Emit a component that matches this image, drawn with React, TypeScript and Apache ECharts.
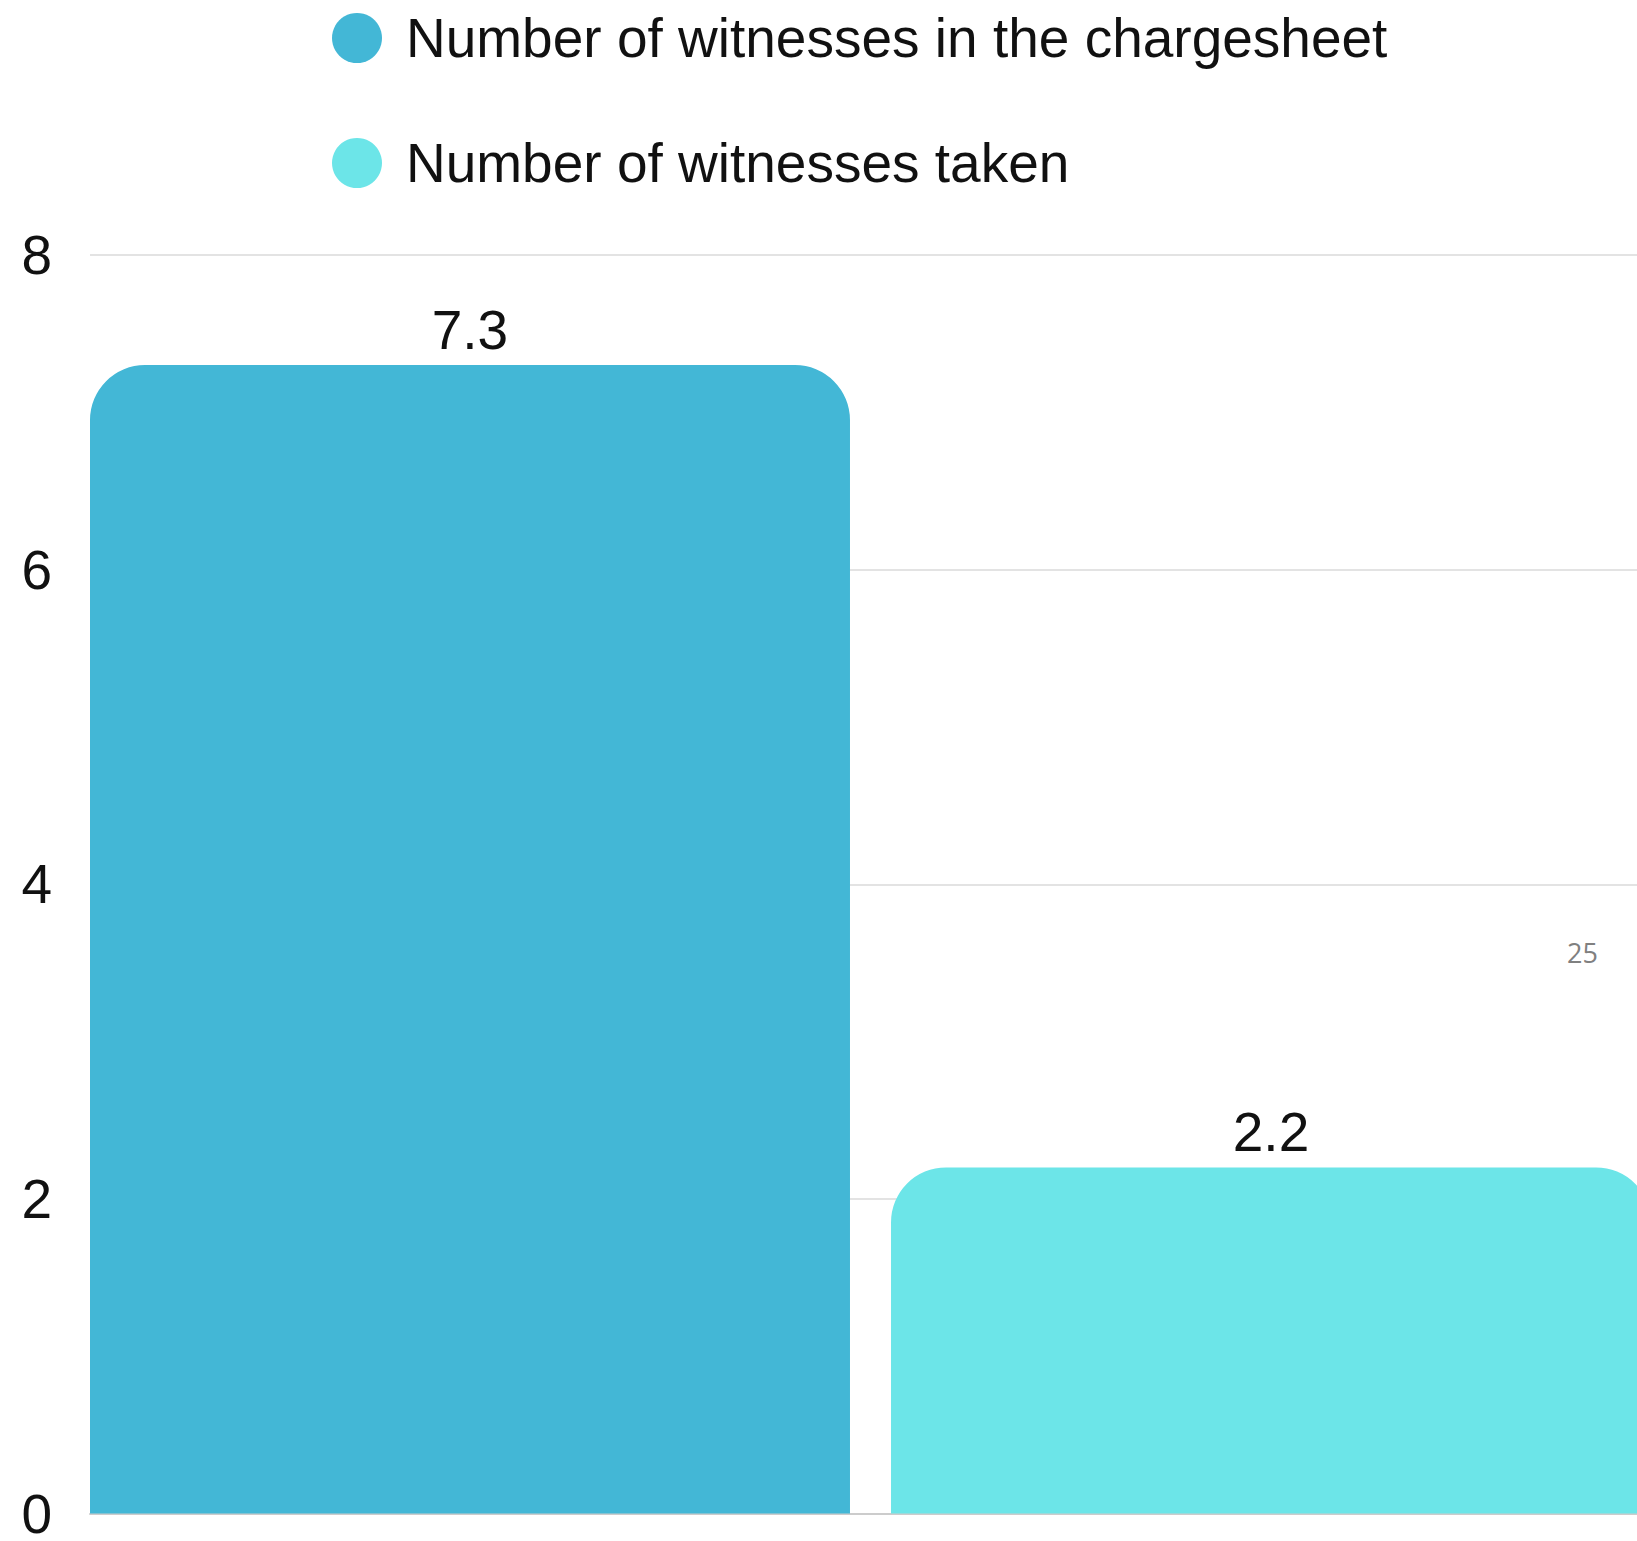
import React, { useEffect, useRef } from "react";
import * as echarts from "echarts";

const categories = ["Witnesses"];
const seriesNames = ["Number of witnesses in the chargesheet", "Number of witnesses taken"];
const chargesheetValues = [7.3];
const takenValues = [2.2];
const yTicks = { min: 0, max: 8, interval: 2 };
const pageNote = "25";

export default function App() {
  const ref = useRef<HTMLDivElement>(null);
  useEffect(() => {
    if (!ref.current) return;
    const chart = echarts.init(ref.current, null, { renderer: "svg" });
    const font = "Liberation Sans, Arial, Helvetica, sans-serif";
    chart.setOption({
      animation: false,
      backgroundColor: "#ffffff",
      textStyle: { fontFamily: font },
      legend: {
        orient: "vertical",
        left: 332,
        top: 8,
        padding: 0,
        icon: "circle",
        itemWidth: 88,
        itemHeight: 50,
        itemGap: 65,
        textStyle: { fontSize: 55, color: "#111111", fontFamily: font, lineHeight: 60 },
        data: seriesNames,
        selectedMode: false,
      },
      grid: { left: 90, top: 255, width: 1561, height: 1264, containLabel: false },
      xAxis: {
        type: "category",
        data: categories,
        axisLine: { show: true, lineStyle: { color: "#cccccc", width: 2 } },
        axisTick: { show: false },
        axisLabel: { show: false },
      },
      yAxis: {
        type: "value",
        min: yTicks.min,
        max: yTicks.max,
        interval: yTicks.interval,
        axisLine: { show: false },
        axisTick: { show: false },
        axisLabel: { fontSize: 55, lineHeight: 40, color: "#111111", margin: 38, fontFamily: font },
        splitLine: { lineStyle: { color: "#e3e3e3", width: 2 } },
      },
      series: [
        {
          name: seriesNames[0],
          type: "bar",
          data: chargesheetValues,
          barWidth: 760,
          barGap: "5.4%",
          itemStyle: { color: "#43B7D6", borderRadius: [55, 55, 0, 0] },
          label: { show: true, position: "top", distance: 8, fontSize: 55, color: "#111111", fontFamily: font },
        },
        {
          name: seriesNames[1],
          type: "bar",
          data: takenValues,
          barWidth: 760,
          barGap: "5.4%",
          itemStyle: { color: "#6CE5E8", borderRadius: [55, 55, 0, 0] },
          label: { show: true, position: "top", distance: 8, fontSize: 55, color: "#111111", fontFamily: font },
        },
      ],
      graphic: [
        {
          type: "text",
          left: 1567,
          top: 939,
          style: { text: pageNote, fontSize: 27, fill: "#808080", fontFamily: "Open Sans, sans-serif" },
        },
      ],
    });
    return () => chart.dispose();
  }, []);
  return (
    <div style={{ position: "absolute", left: 0, top: 0, width: 1637, height: 1541, overflow: "hidden" }}>
      <div ref={ref} style={{ width: 1720, height: 1541 }} />
    </div>
  );
}
